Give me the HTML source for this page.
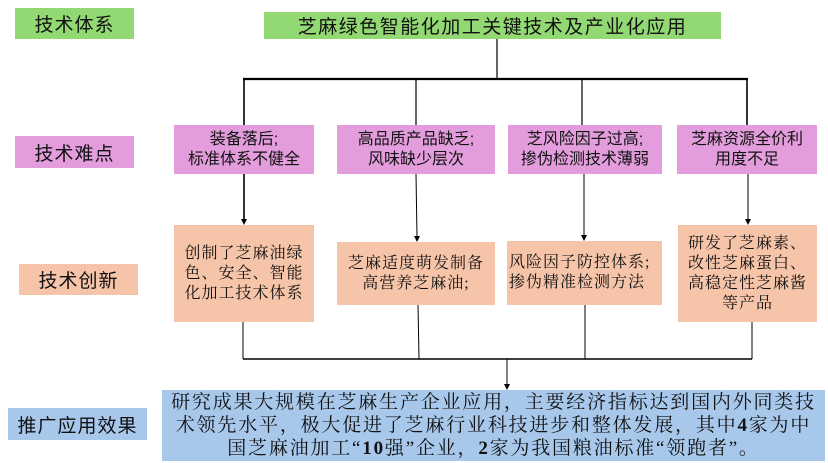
<!DOCTYPE html>
<html><head><meta charset="utf-8"><style>
body{margin:0;width:828px;height:463px;background:#fff;position:relative;overflow:hidden;font-family:"Liberation Sans","Noto Sans CJK SC",sans-serif;color:#111}
.b{position:absolute;display:flex;align-items:center;justify-content:center;text-align:center;box-sizing:border-box}
.g{background:#92d973}.p{background:#e39ddc}.s{background:#f6c5a9}.bl{background:#a7c8eb}
.lab{font-size:19px;letter-spacing:1px}
.pt{font-size:15px;line-height:20px}
.st{font-family:"Liberation Serif","Noto Serif CJK SC","Noto Sans CJK SC",serif;font-size:16px;line-height:20px;letter-spacing:1px}
svg{position:absolute;left:0;top:0}
</style></head><body>
<svg width="828" height="463">
<g stroke="#000" fill="none">
<line x1="497" y1="39" x2="497" y2="79" stroke-width="1.2"/>
<line x1="243" y1="79" x2="748" y2="79" stroke-width="2.2"/>
<line x1="244" y1="79" x2="244" y2="125" stroke-width="1.6"/>
<line x1="416" y1="79" x2="416" y2="125" stroke-width="1.2"/>
<line x1="582" y1="79" x2="582" y2="125" stroke-width="1.2"/>
<line x1="747" y1="79" x2="747" y2="125" stroke-width="1.6"/>
<line x1="244" y1="174" x2="244" y2="220" stroke-width="1.6"/>
<line x1="416" y1="174" x2="417" y2="237" stroke-width="1"/>
<line x1="584" y1="174" x2="584" y2="236" stroke-width="1"/>
<line x1="748" y1="174" x2="748" y2="220" stroke-width="1"/>
<line x1="243" y1="322" x2="243" y2="359" stroke-width="1"/>
<line x1="418" y1="305" x2="419" y2="359" stroke-width="1"/>
<line x1="585" y1="305" x2="585" y2="359" stroke-width="1"/>
<line x1="752" y1="322" x2="752" y2="359" stroke-width="1"/>
<line x1="243" y1="359" x2="752" y2="359" stroke-width="1.5"/>
<line x1="507" y1="359" x2="507" y2="384" stroke-width="1"/>
</g>
<g fill="#000">
<polygon points="241,219 247,219 244,225"/>
<polygon points="414,236 420,236 417,242"/>
<polygon points="581,235 587,235 584,241"/>
<polygon points="745,219 751,219 748,225"/>
<polygon points="504,384 510,384 507,390"/>
</g>
</svg>
<div class="b g lab" style="left:15px;top:8px;width:119px;height:31px"><div>技术体系</div></div>
<div class="b g lab" style="left:264px;top:12px;width:457px;height:27px;letter-spacing:1.5px"><div>芝麻绿色智能化加工关键技术及产业化应用</div></div>
<div class="b p lab" style="left:15px;top:136px;width:119px;height:32px"><div>技术难点</div></div>
<div class="b s lab" style="left:19px;top:264px;width:119px;height:31px"><div>技术创新</div></div>
<div class="b bl lab" style="left:8px;top:408px;width:139px;height:32px"><div>推广应用效果</div></div>

<div class="b p pt" style="left:174px;top:125px;width:140px;height:49px;font-size:16px"><div>装备落后;<br>标准体系不健全</div></div>
<div class="b p pt" style="left:337px;top:125px;width:158px;height:49px;font-size:16px"><div>高品质产品缺乏;<br>风味缺少层次</div></div>
<div class="b p pt" style="left:508px;top:125px;width:154px;height:49px;font-size:16px"><div>芝风险因子过高;<br>掺伪检测技术薄弱</div></div>
<div class="b p pt" style="left:677px;top:125px;width:140px;height:49px;font-size:16px"><div>芝麻资源全价利<br>用度不足</div></div>

<div class="b s st" style="left:174px;top:225px;width:140px;height:97px"><div>创制了芝麻油绿<br>色、安全、智能<br>化加工技术体系</div></div>
<div class="b s st" style="left:337px;top:242px;width:158px;height:63px"><div>芝麻适度萌发制备<br>高营养芝麻油;</div></div>
<div class="b s st" style="left:507px;top:241px;width:155px;height:64px;justify-content:flex-start;text-align:left;padding-left:2px"><div>风险因子防控体系;<br>掺伪精准检测方法</div></div>
<div class="b s st" style="left:678px;top:225px;width:139px;height:97px"><div>研发了芝麻素、<br>改性芝麻蛋白、<br>高稳定性芝麻酱<br>等产品</div></div>

<div class="b bl st" style="left:162px;top:390px;width:663px;height:71px;font-size:19px;line-height:23px;letter-spacing:1.8px;white-space:nowrap"><div>研究成果大规模在芝麻生产企业应用，主要经济指标达到国内外同类技<br>术领先水平，极大促进了芝麻行业科技进步和整体发展，其中<b>4</b>家为中<br>国芝麻油加工“<b>10</b>强”企业，<b>2</b>家为我国粮油标准“领跑者”。</div></div>
</body></html>
